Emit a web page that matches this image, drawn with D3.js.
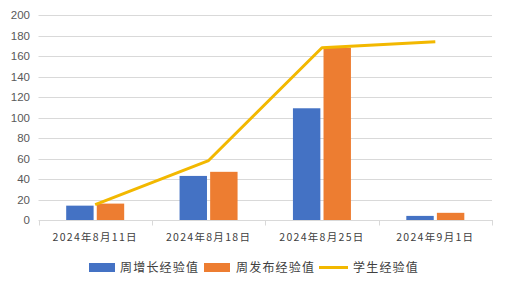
<!DOCTYPE html>
<html><head><meta charset="utf-8">
<script src="https://cdn.jsdelivr.net/npm/d3@7"></script>
<style>body{margin:0;background:#fff}</style>
</head><body>
<svg id="c" width="507" height="288"></svg>
<script>
const categories = ["2024年8月11日","2024年8月18日","2024年8月25日","2024年9月1日"];
const weeklyGain = [14, 43, 109, 4];
const weeklyPublished = [16, 47, 168, 7];
const studentExp = [15, 58, 168, 174];
const yTicks = [0,20,40,60,80,100,120,140,160,180,200];
const seriesNames = ["周增长经验值","周发布经验值","学生经验值"];
const colors = ["#4472C4","#ED7D31","#F2B800"];

const svg = d3.select("#c");
const x = d3.scaleBand().domain(categories).range([38.5, 492]).padding(0);
const y = d3.scaleLinear().domain([0,200]).range([220,15]);
const sub = d3.scaleBand().domain([0,1]).range([0,58]).paddingInner(6/58);
const bw = sub.bandwidth();

// gridlines
svg.append("g").selectAll("line").data(yTicks.filter(d=>d>0)).join("line")
  .attr("x1",38.5).attr("x2",492).attr("y1",d=>Math.round(y(d))+0.5).attr("y2",d=>Math.round(y(d))+0.5)
  .attr("stroke","#D9D9D9").attr("stroke-width",1);

// y labels
svg.append("g").selectAll("text").data(yTicks).join("text")
  .attr("x",30).attr("y",d=>y(d)).attr("dy","0.35em").attr("text-anchor","end")
  .attr("font-family","Liberation Sans, Arial, sans-serif").attr("font-size",11.5).attr("fill","#595959")
  .text(d=>d);

// bars
const series = [weeklyGain, weeklyPublished];
series.forEach((vals,si)=>{
  svg.append("g").selectAll("rect").data(vals).join("rect")
    .attr("x",(d,i)=>x(categories[i]) + x.bandwidth()/2 - 29 + sub(si))
    .attr("width",bw)
    .attr("y",d=>y(d)).attr("height",d=>y(0)-y(d))
    .attr("fill",colors[si]);
});

// x axis
const ax = svg.append("g");
ax.append("line").attr("x1",38.5).attr("x2",492.5).attr("y1",220.5).attr("y2",220.5).attr("stroke","#D9D9D9");
const edges = categories.map(c=>x(c)).concat([x.range()[1]]);
ax.selectAll("line.t").data(edges).join("line").attr("class","t")
  .attr("x1",d=>Math.round(d)+0.5).attr("x2",d=>Math.round(d)+0.5).attr("y1",220).attr("y2",225.5).attr("stroke","#D9D9D9");
ax.selectAll("text").data(categories).join("text")
  .attr("x",d=>x(d)+x.bandwidth()/2).attr("y",237).attr("dy","0.35em").attr("text-anchor","middle")
  .attr("font-family","Noto Sans CJK SC, sans-serif").attr("font-size",10.5).attr("letter-spacing",1.3)
  .attr("fill","#404040").text(d=>d);

// line
const line = d3.line().x((d,i)=>x(categories[i])+x.bandwidth()/2).y(d=>y(d));
svg.append("path").datum(studentExp).attr("d",line).attr("fill","none")
  .attr("stroke",colors[2]).attr("stroke-width",3).attr("stroke-linejoin","round");

// legend
const leg = svg.append("g");
const items = [
  {sx:89, tx:120, type:"rect"},
  {sx:204, tx:236, type:"rect"},
  {sx:319, tx:353, type:"line"}
];
items.forEach((it,i)=>{
  if(it.type==="rect"){
    leg.append("rect").attr("x",it.sx).attr("y",263).attr("width",26).attr("height",9).attr("fill",colors[i]);
  } else {
    leg.append("line").attr("x1",it.sx).attr("x2",it.sx+29).attr("y1",267.5).attr("y2",267.5)
      .attr("stroke",colors[i]).attr("stroke-width",3);
  }
  leg.append("text").attr("x",it.tx).attr("y",267.5).attr("dy","0.35em")
    .attr("font-family","Noto Sans CJK SC, sans-serif").attr("font-size",12).attr("letter-spacing",1.2)
    .attr("fill","#404040").text(seriesNames[i]);
});
</script>
</body></html>
